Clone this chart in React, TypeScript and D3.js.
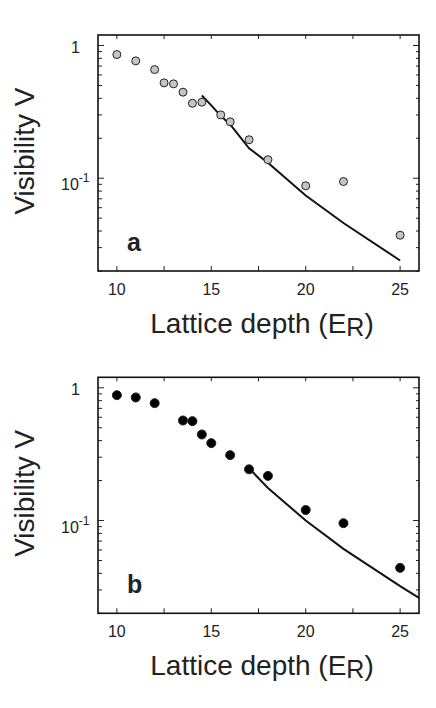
import React from 'react';
import * as d3 from 'd3';

const width = 436;
const height = 708;

// panel a: grey circles, theory line
const depthA = [10, 11, 12, 12.5, 13, 13.5, 14, 14.5, 15.5, 16, 17, 18, 20, 22, 25];
const visA = [0.855, 0.766, 0.659, 0.523, 0.514, 0.445, 0.367, 0.374, 0.3, 0.266, 0.195, 0.138, 0.0877, 0.0944, 0.0372];
const theoryDepthA = [14.5, 15, 15.5, 16, 17, 18, 20, 22, 25];
const theoryA = [0.42, 0.354, 0.295, 0.254, 0.168, 0.131, 0.074, 0.046, 0.024];

// panel b: black dots, theory line
const depthB = [10, 11, 12, 13.5, 14, 14.5, 15, 16, 17, 18, 20, 22, 25];
const visB = [0.88, 0.846, 0.766, 0.567, 0.561, 0.445, 0.383, 0.311, 0.243, 0.217, 0.12, 0.0955, 0.044];
const theoryDepthB = [17.1, 18, 20, 22, 25, 26];
const theoryB = [0.239, 0.176, 0.1, 0.0612, 0.032, 0.0261];

const xMajorTicks = [10, 15, 20, 25];
const xMinorTicks = [12.5, 17.5, 22.5];
const yMajorTicks = [1, 0.1];
const yMinorTicks = [2, 3, 4, 5, 6, 7, 8, 9].map(k => k / 100).concat([2, 3, 4, 5, 6, 7, 8, 9].map(k => k / 10));

const font = '"Liberation Sans", Arial, Helvetica, sans-serif';

const plotLeft = 98;
const plotRight = 419;
const plotH = 236;

function Panel({ top, xs, ys, lineX, lineY, fill, r, letter }) {
  const x = d3.scaleLinear().domain([9, 26]).range([plotLeft, plotRight]);
  const y = d3.scaleLog().domain([0.02, 1.2]).range([top + plotH, top]);
  const line = d3.line<number>()
    .x((d, i) => x(lineX[i]))
    .y(d => y(d));
  const bottom = top + plotH;

  return (
    <g>
      {/* ticks, all pointing inward, mirrored on top and right */}
      {xMajorTicks.concat(xMinorTicks).map((t, i) => (
        <g key={'xt' + i} stroke="#222" strokeWidth={1}>
          <line x1={x(t)} x2={x(t)} y1={bottom} y2={bottom - 5} />
          <line x1={x(t)} x2={x(t)} y1={top} y2={top + 4} />
        </g>
      ))}
      {yMajorTicks.map((t, i) => (
        <g key={'ytM' + i} stroke="#222" strokeWidth={1}>
          <line x1={plotLeft} x2={plotLeft + 6} y1={y(t)} y2={y(t)} />
          <line x1={plotRight} x2={plotRight - 6} y1={y(t)} y2={y(t)} />
        </g>
      ))}
      {yMinorTicks.map((t, i) => (
        <g key={'ytm' + i} stroke="#222" strokeWidth={1}>
          <line x1={plotLeft} x2={plotLeft + 4} y1={y(t)} y2={y(t)} />
          <line x1={plotRight} x2={plotRight - 3} y1={y(t)} y2={y(t)} />
        </g>
      ))}
      <rect x={plotLeft} y={top} width={plotRight - plotLeft} height={plotH}
        fill="none" stroke="#111" strokeWidth={1.6} />

      {xMajorTicks.map(t => (
        <text key={'xl' + t} x={x(t)} y={bottom + 24} textAnchor="middle"
          fontFamily={font} fontSize={16} fill="#222">{t}</text>
      ))}
      <text x={80} y={y(1) + 7} textAnchor="end" fontFamily={font} fontSize={16} fill="#222">1</text>
      <text x={61} y={y(0.1) + 12} fontFamily={font} fontSize={16} fill="#222">
        10<tspan dy={-8} fontSize={12}>-1</tspan>
      </text>

      <text x={262} y={bottom + 62} textAnchor="middle" fontFamily={font} fontSize={28} fill="#222">
        Lattice depth (E<tspan dy={3} fontSize={25}>R</tspan><tspan dy={-3}>)</tspan>
      </text>
      <text transform={`translate(34, ${top + 116}) rotate(-90)`} textAnchor="middle"
        fontFamily={font} fontSize={28} fill="#222">Visibility V</text>

      <text x={127} y={top + 216} fontFamily={font} fontSize={25} fontWeight="bold" fill="#222">{letter}</text>

      <path d={line(lineY)} fill="none" stroke="#111" strokeWidth={2} />
      {xs.map((d, i) => (
        <circle key={i} cx={x(d)} cy={y(ys[i])} r={r} fill={fill} stroke="#222" strokeWidth={1} />
      ))}
    </g>
  );
}

export default function App() {
  return (
    <svg width={width} height={height} style={{ position: 'absolute', left: 0, top: 0, background: '#fff' }}>
      <rect width={width} height={height} fill="#fff" />
      <Panel top={35} xs={depthA} ys={visA} lineX={theoryDepthA} lineY={theoryA}
        fill="#c4c4c4" r={4} letter="a" />
      <Panel top={377.3} xs={depthB} ys={visB} lineX={theoryDepthB} lineY={theoryB}
        fill="#000" r={4.5} letter="b" />
    </svg>
  );
}
